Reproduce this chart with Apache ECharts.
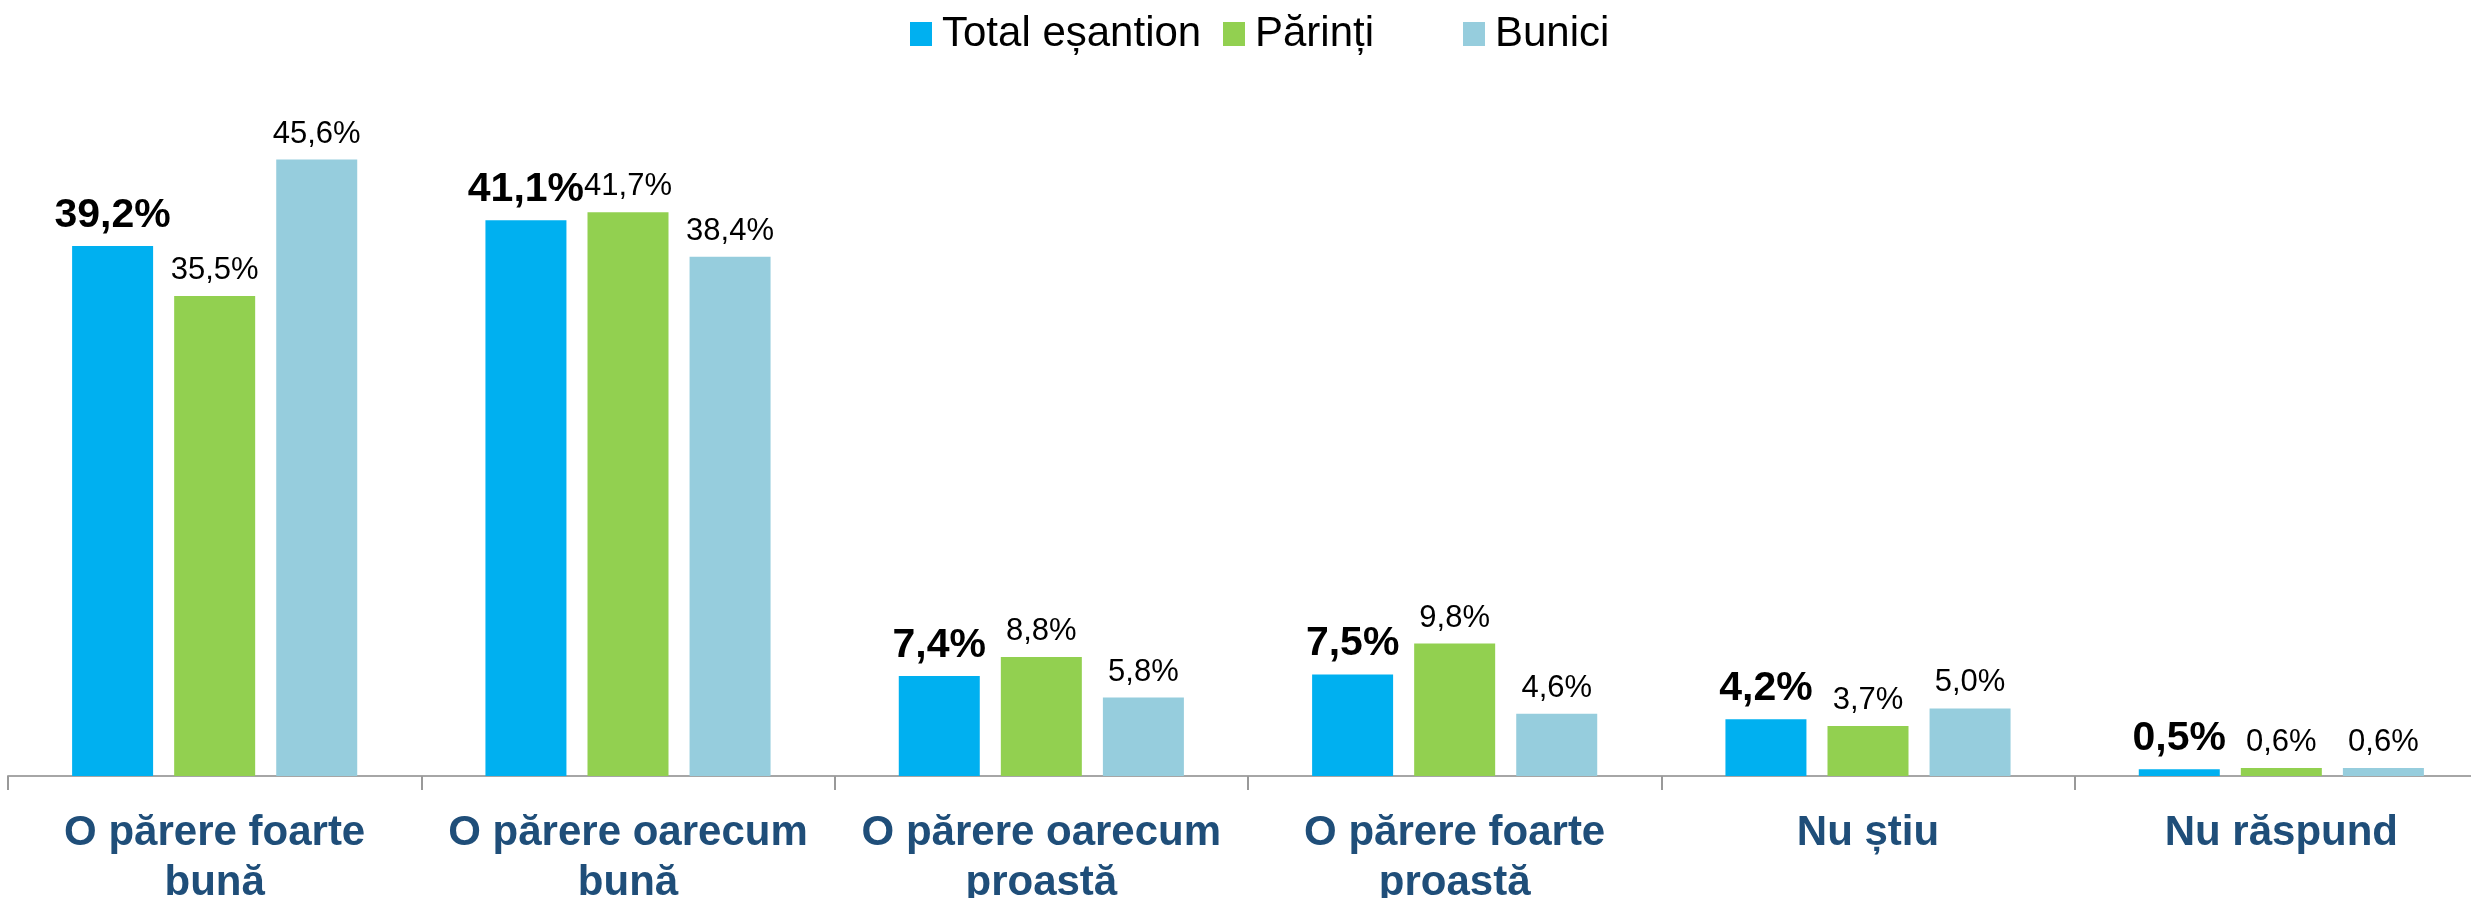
<!DOCTYPE html>
<html>
<head>
<meta charset="utf-8">
<script src="https://cdn.jsdelivr.net/npm/echarts@6/dist/echarts.min.js"></script>
<style>
  html, body { margin: 0; padding: 0; background: #fff; }
  #chart { width: 2471px; height: 898px; }
</style>
</head>
<body>
<div id="chart"></div>
<script>
// categorii si valori (%)
const categories = [
  "O părere foarte\nbună",
  "O părere oarecum\nbună",
  "O părere oarecum\nproastă",
  "O părere foarte\nproastă",
  "Nu știu",
  "Nu răspund"
];
const totalEsantion = [39.2, 41.1, 7.4, 7.5, 4.2, 0.5];
const parinti = [35.5, 41.7, 8.8, 9.8, 3.7, 0.6];
const bunici = [45.6, 38.4, 5.8, 4.6, 5.0, 0.6];

const fontFamily = "'Liberation Sans', Arial, sans-serif";
const fmt = p => p.value.toFixed(1).replace(".", ",") + "%";

const chart = echarts.init(document.getElementById("chart"));

const legendItem = (name, left) => ({
  data: [name],
  left: left,
  top: 8,
  itemWidth: 22,
  itemHeight: 24,
  itemGap: 0,
  icon: "rect",
  textStyle: { fontFamily, fontSize: 42, color: "#000", padding: [0, 0, 0, 5] }
});

chart.setOption({
  animation: false,
  legend: [
    legendItem("Total eșantion", 905),
    legendItem("Părinți", 1218),
    legendItem("Bunici", 1458)
  ],
  grid: { left: 8, top: 100, width: 2480, bottom: 122, outerBoundsMode: "none", containLabel: false },
  xAxis: {
    type: "category",
    data: categories,
    axisLine: { lineStyle: { color: "#A6A6A6", width: 2 } },
    axisTick: { show: true, interval: 0, length: 14, lineStyle: { color: "#999999", width: 2 } },
    axisLabel: {
      margin: 32,
      fontFamily,
      fontSize: 42,
      fontWeight: "bold",
      lineHeight: 50,
      color: "#1F4E79",
      interval: 0
    }
  },
  yAxis: { type: "value", min: 0, max: 50, show: false, splitLine: { show: false } },
  series: [
    {
      name: "Total eșantion",
      type: "bar",
      data: totalEsantion,
      barWidth: 81,
      barGap: "26%",
      itemStyle: { color: "#00B0F0" },
      label: {
        show: true, position: "top", distance: 10, formatter: fmt,
        fontFamily, fontSize: 41, fontWeight: "bold", color: "#000"
      }
    },
    {
      name: "Părinți",
      type: "bar",
      data: parinti,
      barWidth: 81,
      barGap: "26%",
      itemStyle: { color: "#92D050" },
      label: {
        show: true, position: "top", distance: 10, formatter: fmt,
        fontFamily, fontSize: 31, color: "#000"
      }
    },
    {
      name: "Bunici",
      type: "bar",
      data: bunici,
      barWidth: 81,
      barGap: "26%",
      itemStyle: { color: "#96CDDD" },
      label: {
        show: true, position: "top", distance: 10, formatter: fmt,
        fontFamily, fontSize: 31, color: "#000"
      }
    }
  ]
});
</script>
</body>
</html>
